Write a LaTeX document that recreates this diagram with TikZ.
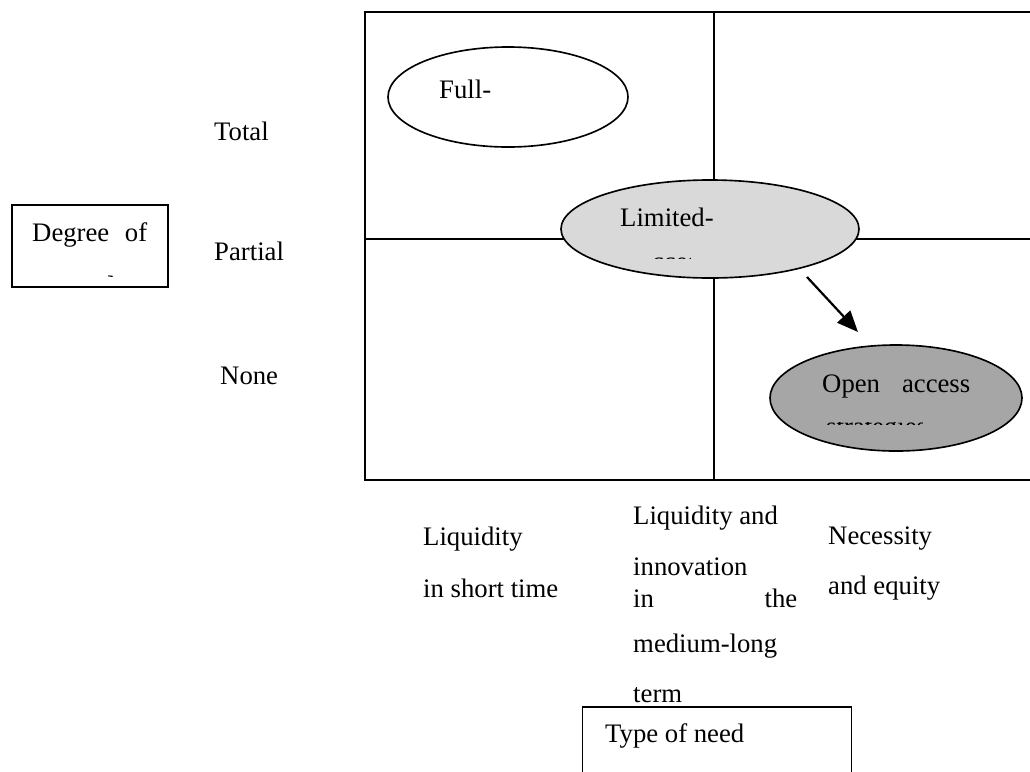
\documentclass[tikz,border=0pt]{standalone}
\usepackage{fontspec}
\setmainfont{Liberation Serif}
\usetikzlibrary{shapes.geometric,arrows.meta}

\begin{document}
\begin{tikzpicture}[x=0.03cm,y=-0.03cm,
		every node/.style={font=\fontsize{22.8}{27}\selectfont,inner sep=0pt},
		txt/.style={anchor=west},
		strat/.style={ellipse,draw,line width=1.4pt},
		frame/.style={draw,line width=1.4pt,rectangle}]
			\clip (0,0) rectangle (1030,771);
			% the four quadrants
			\coordinate (nw) at (365,12);
			\coordinate (se) at (1045,480);
			\draw[line width=1.4pt] (nw) rectangle (se);
			\draw[line width=1.4pt] (714,12) -- (714,480);
			\draw[line width=1.4pt] (365,239) -- (1045,239);
			% strategies
			\node[strat,minimum width=7.2cm,minimum height=3cm] at (508,97) (full) {};
			\node[txt] at (439,89) (fulltxt) {Full-};
			\node[strat,fill=black!15,minimum width=8.94cm,minimum height=2.94cm] at (710,229) (lim) {};
			\node[txt] at (620,217) (limtxt) {Limited-};
			\node[strat,fill=black!35,minimum width=7.56cm,minimum height=3.18cm] at (896,398) (open) {};
			\node[txt] at (822,386) (opentxt) {\makebox[4.44cm]{Open\hfill access}};
			\begin{scope}
				\clip (653,257) rectangle (690,258.5);
				\node[anchor=base west] at (640,270) (limcut) {access};
			\end{scope}
			\begin{scope}
				\clip (826,422.5) rectangle (922,424);
				\node[anchor=base west] at (826,435) (opencut) {strategies};
			\end{scope}
			\coordinate (a1) at (807,277);
			\coordinate (a2) at (858,332);
			\draw[line width=1.9pt,-{Triangle[length=18pt,width=15pt]}] (a1) -- (a2);
			% degree axis
			\node[frame,minimum width=4.68cm,minimum height=2.46cm] at (90,246) (deg) {};
			\node[txt] at (32,235) (degtxt) {\makebox[3.45cm]{Degree\hfill of}};
			\begin{scope}
				\clip (108,274) rectangle (112,276);
				\node[anchor=base west] at (90,288) (degcut) {access};
			\end{scope}
			\node[txt] at (214,131) (total) {Total};
			\node[txt] at (214,251) (partial) {Partial};
			\node[txt] at (220,376) (none) {None};
			% type of need axis
			\node[txt] at (423,539) (liq1) {Liquidity};
			\node[txt] at (423,588) (liq2) {in short time};
			\node[txt] at (633,518) (inn1) {Liquidity and};
			\node[txt] at (633,567) (inn2) {innovation};
			\node[txt] at (633,598) (inn3) {\makebox[4.92cm]{in\hfill the}};
			\node[txt] at (633,646) (inn4) {medium-long};
			\node[txt] at (633,695) (inn5) {term};
			\node[txt] at (828,539) (nec1) {Necessity};
			\node[txt] at (828,588) (nec2) {and equity};
			\node[frame,minimum width=8.07cm,minimum height=2.7cm] at (717,752) (need) {};
			\node[txt] at (605,736) (needtxt) {Type of need};
		\end{tikzpicture}
\end{document}
